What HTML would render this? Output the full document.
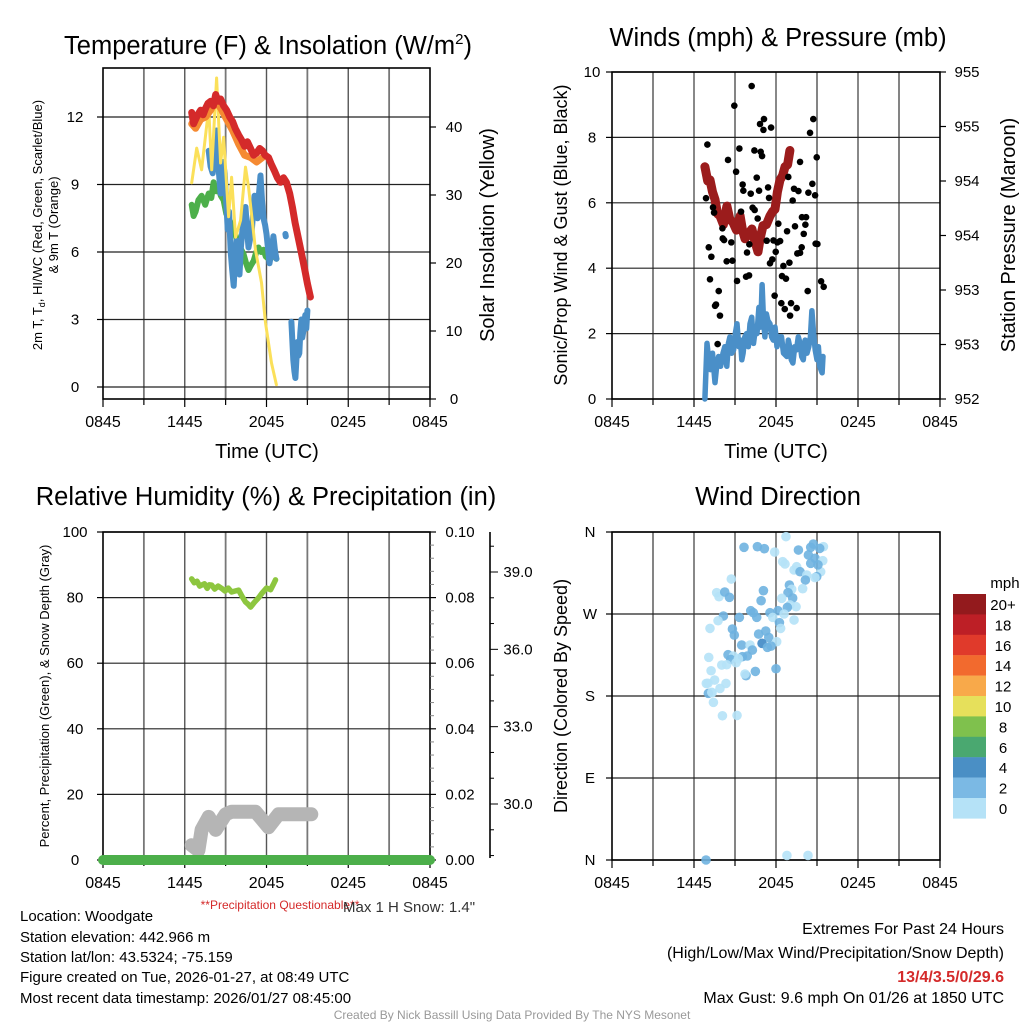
<!DOCTYPE html>
<html><head><meta charset="utf-8"><style>
html,body{margin:0;padding:0;background:#fff;}
svg{display:block;font-family:"Liberation Sans",Arial,sans-serif;}
</style></head><body>
<svg id="s" width="1024" height="1024" viewBox="0 0 1024 1024" xmlns="http://www.w3.org/2000/svg">
<rect width="1024" height="1024" fill="#fff"/>
<g id="plots"></g>
<text x="268" y="54" font-size="25.5" text-anchor="middle">Temperature (F) &amp; Insolation (W/m<tspan font-size="15" dy="-10">2</tspan><tspan dy="10">)</tspan></text>
<text x="778" y="46" font-size="25.5" text-anchor="middle">Winds (mph) &amp; Pressure (mb)</text>
<text x="266" y="505" font-size="25.5" text-anchor="middle">Relative Humidity (%) &amp; Precipitation (in)</text>
<text x="778" y="505" font-size="25.5" text-anchor="middle">Wind Direction</text>
<text x="267" y="458" font-size="20" text-anchor="middle">Time (UTC)</text>
<text x="776" y="458" font-size="20" text-anchor="middle">Time (UTC)</text>
<text transform="translate(42,225) rotate(-90)" font-size="13" text-anchor="middle">2m T, T<tspan font-size="9" dy="3">d</tspan><tspan dy="-3">, HI/WC (Red, Green, Scarlet/Blue)</tspan></text>
<text transform="translate(58,225) rotate(-90)" font-size="13" text-anchor="middle">&amp; 9m T (Orange)</text>
<text transform="translate(494,235) rotate(-90)" font-size="20" text-anchor="middle">Solar Insolation (Yellow)</text>
<text transform="translate(567,235) rotate(-90)" font-size="18" text-anchor="middle">Sonic/Prop Wind &amp; Gust (Blue, Black)</text>
<text transform="translate(1015,235) rotate(-90)" font-size="20" text-anchor="middle">Station Pressure (Maroon)</text>
<text transform="translate(49,696) rotate(-90)" font-size="13" text-anchor="middle">Percent, Precipitation (Green), &amp; Snow Depth (Gray)</text>
<text transform="translate(567,696) rotate(-90)" font-size="18" text-anchor="middle">Direction (Colored By Speed)</text>
<text x="280" y="909" font-size="12" fill="#d42a2a" text-anchor="middle">**Precipitation Questionable**</text>
<text x="343" y="912" font-size="15" fill="#333">Max 1 H Snow: 1.4"</text>
<g font-size="15">
<text x="20" y="921">Location: Woodgate</text>
<text x="20" y="942">Station elevation: 442.966 m</text>
<text x="20" y="962">Station lat/lon: 43.5324; -75.159</text>
<text x="20" y="982">Figure created on Tue, 2026-01-27, at 08:49 UTC</text>
<text x="20" y="1003">Most recent data timestamp: 2026/01/27 08:45:00</text>
</g>
<g font-size="16" text-anchor="end">
<text x="1004" y="934">Extremes For Past 24 Hours</text>
<text x="1004" y="958">(High/Low/Max Wind/Precipitation/Snow Depth)</text>
<text x="1004" y="982" fill="#d42a2a" font-weight="bold">13/4/3.5/0/29.6</text>
<text x="1004" y="1003">Max Gust: 9.6 mph On 01/26 at 1850 UTC</text>
</g>
<text x="512" y="1019" font-size="12" fill="#999" text-anchor="middle">Created By Nick Bassill Using Data Provided By The NYS Mesonet</text>
</svg>
<script>
// ---- data (hours since 08:45 UTC) ----
const timeLabels=["0845","1445","2045","0245","0845"];
const tempTicks=[0,3,6,9,12];
const insolTicks=[0,10,20,30,40];
const windTicks=[0,2,4,6,8,10];
const presLabels=["952","953","953","954","954","955","955"];
const rhTicks=[0,20,40,60,80,100];
const precipTicks=["0.00","0.02","0.04","0.06","0.08","0.10"];
const snowTicks=[30,33,36,39];
const dirLabels=["N","E","S","W","N"];
const legendLabels=["20+","18","16","14","12","10","8","6","4","2","0"];
const legendColors=["#931a1d","#bd1f26","#e03a2b","#f26a2e","#f8a94a","#e6e05b","#7fc14d","#4aa870","#4a8fc5","#7bb9e4","#b5e2f7"];

const redT=[6.51,6.65,6.8,6.95,7.17,7.35,7.54,7.7,7.9,8.1,8.27,8.45,8.63,8.85,9.07,9.3,9.51,9.7,9.95,10.15,10.39,10.6,10.83,11.05,11.27,11.5,11.71,11.9,12.15,12.35,12.59,12.8,13.02,13.25,13.46,13.7,13.9,14.1,14.34,14.55,14.78,15.0,15.22];
const redV=[12.2,11.7,11.9,12.1,12.3,12.1,12.4,12.6,12.7,12.5,13.0,12.7,12.8,12.5,12.3,12.0,11.8,11.5,11.2,11.0,10.7,10.9,10.6,10.3,10.4,10.6,10.5,10.3,10.2,9.9,9.6,9.3,9.1,9.3,9.1,8.6,8.0,7.3,6.6,6.0,5.3,4.6,4.0];
const orangeT=[6.51,6.8,7.17,7.54,7.9,8.27,8.63,9.07,9.51,9.95,10.39,10.83,11.27,11.71];
const orangeV=[11.7,11.5,11.9,12.0,12.3,12.7,12.4,11.9,11.4,10.8,10.3,10.2,10.0,10.2];
const greenT=[6.51,6.65,6.8,7.0,7.24,7.5,7.76,7.95,8.12,8.3,8.49,8.65,8.85,9.05,9.22,9.44,9.7,9.95,10.15,10.32,10.5,10.68,10.85,11.05,11.25,11.41,11.6,11.78,11.95,12.15,12.4,12.73];
const greenV=[8.1,7.6,7.8,8.3,8.5,8.1,8.6,8.4,9.1,8.7,8.8,8.5,8.3,7.7,7.5,7.2,6.8,6.3,6.1,5.9,5.5,5.2,5.4,5.6,6.0,6.2,6.0,6.1,5.8,5.7,5.9,5.7];
const blueT=[7.76,7.9,8.05,8.2,8.34,8.5,8.63,8.8,8.93,9.05,9.15,9.25,9.37,9.48,9.59,9.7,9.8,9.9,10.02,10.12,10.24,10.35,10.46,10.57,10.68,10.8,10.9,11.0,11.12,11.23,11.34,11.45,11.56,11.67,11.78,11.9,12.0,12.1,12.22,12.36,12.51,12.62,12.73,null,13.39,13.42,null,13.83,13.9,13.97,14.05,14.12,14.2,14.27,14.34,14.41,14.48,14.56,14.63,14.71,14.78,14.85,14.92,15.0];
const blueV=[10.5,9.8,9.5,10.6,11.4,9.6,8.6,10.0,9.5,8.2,7.0,7.8,6.0,5.2,4.5,5.8,6.5,5.6,5.0,6.2,7.0,7.6,8.0,7.0,6.2,6.6,6.8,7.6,8.5,8.0,7.5,8.6,9.4,8.3,7.5,7.2,6.8,6.2,5.5,6.0,6.7,6.1,5.7,null,6.8,6.7,null,2.9,2.0,1.2,0.7,0.4,1.3,2.0,1.4,1.5,2.4,3.0,2.2,2.5,2.9,3.2,2.6,3.4];
const solarT=[6.51,6.88,7.24,7.76,7.98,8.34,8.63,8.85,9.22,9.44,9.73,10.10,10.46,10.68,11.19,11.63,11.93,12.37,12.73];
const solarV=[31.8,36.9,33.7,42.8,33.7,47.2,34.7,38.5,26.8,32.6,23.8,26.3,34.1,31.2,21.9,17.1,11.2,5.3,2.1];

const windT=[6.80,6.95,7.08,7.2,7.35,7.54,7.68,7.8,7.95,8.12,8.25,8.4,8.52,8.63,8.76,8.9,9.02,9.15,9.28,9.4,9.5,9.59,9.72,9.85,9.97,10.1,10.22,10.35,10.48,10.61,10.75,10.88,10.98,11.08,11.19,11.3,11.4,11.56,11.68,11.8,11.93,12.07,12.2,12.4,12.55,12.8,12.9,13.0,13.12,13.24,13.37,13.5,13.63,13.76,13.88,14.0,14.13,14.27,14.4,14.52,14.63,14.75,14.87,15.0,15.1,15.2,15.37,15.44];
const windV=[0,1.7,1.2,0.9,1.4,0.5,1.1,1.3,1.0,1.4,1.6,1.0,1.7,1.9,1.4,1.5,2.0,2.3,1.6,1.8,1.2,1.4,1.9,2.0,1.6,2.3,2.5,1.7,2.1,2.0,2.8,2.2,3.5,2.5,1.9,2.6,2.4,2.3,1.9,1.8,2.2,1.6,1.9,1.9,1.4,1.3,1.8,1.6,1.2,1.1,1.6,1.5,1.9,1.7,1.3,1.2,1.8,1.4,1.6,1.9,2.7,2.0,1.5,1.2,1.6,1.0,0.8,1.3];
const presT=[6.8,7.0,7.17,7.35,7.54,7.72,7.9,8.15,8.41,8.62,8.85,9.1,9.37,9.55,9.73,10.0,10.24,10.45,10.68,10.85,11.05,11.3,11.56,11.75,11.93,12.1,12.29,12.48,12.66,12.85,13.02];
const presV=[954.13,954.0,954.01,953.9,953.83,953.7,953.68,953.6,953.77,953.65,953.62,953.55,953.68,953.55,953.47,953.52,953.56,953.45,953.35,953.48,953.59,953.6,953.68,953.72,953.74,953.9,954.01,954.05,954.13,954.15,954.28];
const gustT=[10.22,8.95,10.83,11.12,11.08,11.64,14.73,14.49,6.98,9.32,10.42,10.88,10.98,8.49,9.08,14.98,13.76,10.59,12.9,9.56,9.61,10.15,10.76,11.42,11.49,13.32,13.64,14.66,14.37,14.86,6.88,13.22,7.39,7.47,10.29,10.44,10.66,9.44,12.17,13.9,14.2,13.39,14.15,12.81,14.03,8.08,8.1,8.2,8.73,11.32,11.81,12.1,12.3,11.98,10.05,7.08,7.27,8.39,8.81,9.88,14.9,15.03,13.88,13.56,13.76,11.73,11.56,12.54,12.98,9.81,10.03,9.15,7.17,7.81,12.44,12.73,15.3,15.49,14.32,7.61,7.54,7.9,11.9,12.39,12.64,13.1,13.51,13.03,7.73];
const gustV=[9.57,8.97,8.41,8.56,8.23,8.30,8.56,8.14,7.78,7.66,7.60,7.56,7.43,7.31,6.95,7.39,7.25,6.77,6.79,6.56,6.37,6.28,6.37,6.47,6.15,6.43,6.36,6.58,6.31,6.23,6.14,6.07,5.86,5.70,5.85,5.78,5.52,5.73,5.36,5.56,5.56,5.28,5.33,5.13,5.05,5.22,4.91,4.86,4.79,4.84,4.85,4.79,4.83,4.50,4.73,4.64,4.35,4.21,4.23,4.48,4.75,4.74,4.64,4.45,4.47,4.27,4.15,4.07,4.17,3.74,3.78,3.61,3.66,3.30,3.76,3.68,3.60,3.43,3.30,2.89,2.85,2.55,3.16,2.93,2.75,2.93,2.78,2.55,1.68];

const rhT=[6.51,6.7,6.9,7.1,7.24,7.45,7.65,7.8,7.98,8.2,8.45,8.71,8.95,9.2,9.44,9.7,9.95,10.2,10.46,10.65,10.83,11.1,11.41,11.7,12.0,12.3,12.5,12.66];
const rhV=[85.7,84.5,85.0,83.5,83.8,84.2,82.8,83.9,83.8,82.6,83.5,82.8,82.0,82.9,81.7,82.0,82.3,80.4,78.7,78.0,77.1,78.5,79.9,81.5,82.9,82.4,84.0,85.4];
const snowT=[6.51,7.0,7.24,7.76,8.27,9.0,9.44,11.19,12.15,12.88,15.29];
const snowV=[28.4,28.2,29.0,29.5,29.0,29.6,29.7,29.7,29.1,29.6,29.6];
const precipT=[0,24];
const precipV=[0,0];

const dirT=[12.73,9.66,10.64,11.15,11.9,13.64,14.73,14.54,15.47,14.37,14.86,15.42,14.54,12.49,12.66,13.51,13.32,13.76,14.25,15.27,14.98,14.15,8.73,12.98,13.15,13.95,7.66,7.83,8.25,8.59,11.08,12.88,13.22,10.91,12.42,13.03,13.47,12.83,10.15,10.34,10.59,11.56,12.15,12.59,13.32,11.76,8.15,7.76,9.32,7.17,12.25,12.34,8.81,8.95,10.73,11.25,11.47,12.05,10.98,11.64,9.49,10.1,11.37,10.27,9.54,9.9,8.49,8.88,8.69,9.25,9.08,7.08,8.03,8.39,12.0,10.49,9.81,9.73,7.25,7.51,6.9,8.34,7.9,7.32,7.05,7.42,8.08,9.15,6.88,12.8,14.34,7.02,7.3,15.2,15.07,14.85];
const dirV=[354.9,343.2,343.9,341.7,338.0,340.2,346.8,343.2,343.9,334.8,331.1,328.5,325.6,327.4,324.9,321.9,318.3,316.4,312.8,316.4,311.0,307.3,308.4,301.8,297.1,297.8,293.4,289.0,294.1,288.3,295.6,293.4,287.5,284.6,287.2,279.9,278.0,277.3,273.6,271.4,266.3,271.4,273.6,270.0,263.4,266.3,267.8,262.6,266.3,254.2,260.5,254.2,253.5,246.9,248.0,251.3,244.3,239.6,237.8,234.8,235.9,235.9,233.4,230.4,223.1,223.9,225.3,223.9,220.2,220.9,216.5,222.4,214.0,214.3,209.9,207.0,202.3,204.1,207.7,197.5,193.8,193.8,188.3,183.6,182.9,173.0,158.3,158.7,0,5,5,194,184,342,324,310];
const dirSpd=[1,3,3,3,1,3,3,3,1,3,3,1,3,1,1,1,1,3,1,1,3,3,1,3,1,1,1,1,3,3,3,3,3,3,1,1,1,3,3,3,3,3,3,1,1,1,3,1,3,1,3,1,3,3,3,3,3,1,5,3,3,1,3,3,3,3,3,1,3,1,1,1,1,1,3,3,3,1,1,1,1,1,1,1,3,1,1,1,3,1,1,1,1,3,3,1];

// ---- drawing ----
const NS="http://www.w3.org/2000/svg";
const root=document.getElementById('plots');
function el(tag,attrs,parent,txt){const e=document.createElementNS(NS,tag);for(const k in attrs)e.setAttribute(k,attrs[k]);if(txt!=null)e.textContent=txt;(parent||root).appendChild(e);return e;}
function lin(d0,d1,r0,r1){return v=>r0+(v-d0)/(d1-d0)*(r1-r0);}
function pathD(ts,vs,fx,fy){let d="",pen=false;for(let i=0;i<ts.length;i++){if(ts[i]==null||vs[i]==null){pen=false;continue;}d+=(pen?"L":"M")+fx(ts[i]).toFixed(1)+","+fy(vs[i]).toFixed(1);pen=true;}return d;}
function speedColor(s){return ["#b5e2f7","#6fb2e0","#3f88c5"][Math.min(2,Math.floor(s/2))];}

function frame(name,x0,x1,y0,y1,hGrid){
  const g=el('g',{});
  
  
  const fx=lin(0,24,x0,x1);
  for(let h=3;h<24;h+=3){const l=el('line',{x1:fx(h),x2:fx(h),y1:y0,y2:y1,stroke:h%6==0?'#555':'#777','stroke-width':h%6==0?1.4:1.8},g);
    
    }
  hGrid.forEach(y=>{const l=el('line',{x1:x0,x2:x1,y1:y,y2:y,stroke:'#222','stroke-width':1.2},g);
    
    });
  const r=el('rect',{x:x0,y:y0,width:x1-x0,height:y1-y0,fill:'none',stroke:'#000','stroke-width':1.6},g);
  
  
  for(let h=0;h<=24;h+=3){const l=el('line',{x1:fx(h),x2:fx(h),y1:y1,y2:y1+(h%6==0?8:6),stroke:'#000','stroke-width':1.2},g);
    
    }
  timeLabels.forEach((s,i)=>{const t=el('text',{x:fx(i*6),y:y1+28,'font-size':16,'text-anchor':'middle'},g,s);
    
    });
  return fx;
}
function yLabels(vals,fy,x,anchor,tick,size){
  vals.forEach(v=>{const y=fy(typeof v==='string'?parseFloat(v):v);
    const t=el('text',{x:x,y:y+5,'font-size':size||15,'text-anchor':anchor},root,String(v));
    
    
    if(tick){const l=el('line',{x1:tick[0],x2:tick[1],y1:y,y2:y,stroke:'#000','stroke-width':1.2});
      
      }
  });
}
function line(ts,vs,fx,fy,color,w,name){const p=el('path',{d:pathD(ts,vs,fx,fy),fill:'none',stroke:color,'stroke-width':w,'stroke-linecap':'round','stroke-linejoin':'round'});
  
  return p;}

// Panel 1: temperature
(function(){
  const x0=103,x1=430,y0=68,y1=399;
  const fy=lin(0,12,387,117), fyR=lin(0,40,399,127);
  const fx=frame('temp',x0,x1,y0,y1,tempTicks.map(fy));
  yLabels(tempTicks,fy,x0-28,'middle',[x0-6,x0]);
  yLabels(insolTicks,fyR,x1+24,'middle',[x1,x1+6]);
  line(greenT,greenV,fx,fy,'#4caf4a',6,'dewpoint-line');
  line(blueT,blueV,fx,fy,'#4a8fc8',6,'windchill-line');
  line(solarT,solarV,fx,fyR,'#fbe05a',3,'insolation-line');
  line(orangeT,orangeV,fx,fy,'#f58a32',7,'temp-9m-line');
  line(redT,redV,fx,fy,'#d42a2a',7,'temp-2m-line');
})();

// Panel 2: wind & pressure
(function(){
  const x0=612,x1=940,y0=72,y1=399;
  const fy=lin(0,10,399,72), fyP=lin(952,955,399,72);
  const fx=frame('wind',x0,x1,y0,y1,windTicks.map(fy));
  yLabels(windTicks,fy,x0-20,'middle',[x0-6,x0]);
  presLabels.forEach((s,i)=>{const y=fyP(952+i*0.5);
    const t=el('text',{x:x1+27,y:y+5,'font-size':15,'text-anchor':'middle'},root,s);
    
    
    const l=el('line',{x1:x1,x2:x1+6,y1:y,y2:y,stroke:'#000','stroke-width':1.2});
    
    });
  line(windT,windV,fx,fy,'#4a8fc8',5.5,'wind-speed-line');
  line(presT,presV,fx,fyP,'#9b1c1c',9,'pressure-line');
  gustT.forEach((t,i)=>{const c=el('circle',{cx:fx(t),cy:fy(gustV[i]),r:3.3,fill:'#000'});
    
    });
})();

// Panel 3: RH & precip
(function(){
  const x0=103,x1=430,y0=532,y1=860;
  const fy=lin(0,100,860,532), fyP=lin(0,0.1,860,532), fyS=lin(30,39,804,572);
  const fx=frame('rh',x0,x1,y0,y1,rhTicks.map(fy));
  yLabels(rhTicks,fy,x0-28,'middle',[x0-6,x0]);
  precipTicks.forEach(s=>{const y=fyP(parseFloat(s));
    const t=el('text',{x:x1+30,y:y+5,'font-size':15,'text-anchor':'middle'},root,s);
    
    
    const l=el('line',{x1:x1,x2:x1+6,y1:y,y2:y,stroke:'#000','stroke-width':1.2});
    
    });
  for(let k=1;k<50;k++){if(k%10==0||k%2==1)continue;const y=fyP(k*0.002);const l=el('line',{x1:x1,x2:x1+4,y1:y,y2:y,stroke:'#888','stroke-width':1});
    
    }
  const ax=el('line',{x1:490,x2:490,y1:532,y2:858,stroke:'#000','stroke-width':1.6});
  
  
  for(let v=28;v<=40;v++){const y=fyS(v);if(y<532||y>858)continue;const l=el('line',{x1:490,x2:490+(v%3==0?8:4),y1:y,y2:y,stroke:'#000','stroke-width':1});
    
    }
  snowTicks.forEach(v=>{const t=el('text',{x:518,y:fyS(v)+5,'font-size':15,'text-anchor':'middle'},root,v.toFixed(1));
    
    });
  line(snowT,snowV,fx,fyS,'#b5b5b5',14,'snow-depth-line');
  line(precipT,precipV,fx,fyP,'#4caf4a',10,'precip-line');
  line(rhT,rhV,fx,fy,'#8dc63f',5.5,'rh-line');
})();

// Panel 4: wind direction
(function(){
  const x0=612,x1=940,y0=532,y1=860;
  const fy=lin(0,360,860,532);
  const fx=frame('wdir',x0,x1,y0,y1,[0,90,180,270,360].map(fy));
  dirLabels.forEach((s,i)=>{const y=fy(i*90);
    const t=el('text',{x:x0-22,y:y+5,'font-size':15,'text-anchor':'middle'},root,s);
    
    
    const l=el('line',{x1:x0-6,x2:x0,y1:y,y2:y,stroke:'#000','stroke-width':1.2});
    
    });
  dirT.forEach((t,i)=>{const c=el('circle',{cx:fx(t),cy:fy(dirV[i]),r:4.8,fill:speedColor(dirSpd[i]),'fill-opacity':0.9});
    
    });
  const lt=el('text',{x:1005,y:588,'font-size':15,'text-anchor':'middle'},root,'mph');
  
  
  legendLabels.forEach((s,i)=>{const y=594+i*20.4;
    const r=el('rect',{x:953,y:y,width:33,height:20.6,fill:legendColors[i]});
    
    
    const t=el('text',{x:1003,y:y+16,'font-size':15,'text-anchor':'middle'},root,s);
    
    });
})();
</script>
</body></html>
